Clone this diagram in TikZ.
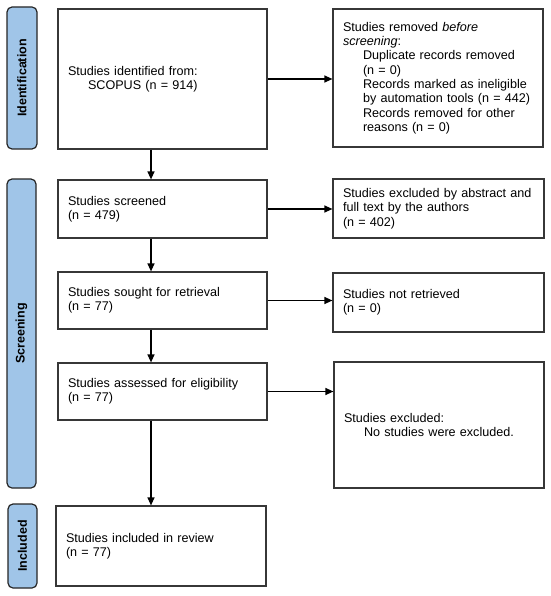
\documentclass[tikz,border=0pt]{standalone}
\usepackage{fontspec}
\setmainfont{Liberation Sans}
\usetikzlibrary{arrows.meta}
\definecolor{barblue}{RGB}{160,197,232}
\definecolor{edgegray}{RGB}{55,55,55}
\begin{document}
\begin{tikzpicture}[x=1pt,y=-1pt,
  box/.style={draw=edgegray, line width=1.2pt, fill=white, inner xsep=10pt, inner ysep=2pt,
    align=left, anchor=center, font=\fontsize{12.6}{14.3}\selectfont},
  bar/.style={draw=black!85, line width=1.2pt, fill=barblue, rounded corners=5pt, rotate=90,
    inner sep=0pt, font=\bfseries\fontsize{12.5}{14}\selectfont},
  arr/.style={line width=1.2pt, -{Triangle[length=8pt,width=7pt]}}]
\useasboundingbox (0,0) rectangle (550,596);
\fill[white] (0,0) rectangle (550,596);

% phase bars
\node[bar, minimum width=142pt, minimum height=30pt] (idbar) at (22,78) {Identification};
\node[bar, minimum width=309pt, minimum height=29pt] (scbar) at (21.5,333.5) {Screening};
\node[bar, minimum width=84pt, minimum height=29pt] (inbar) at (22.5,546) {Included};

% left column
\node[box, text width=189pt, minimum height=140pt] (B1) at (162.5,79)
  {Studies identified from:\\\hspace*{20pt}SCOPUS (n = 914)};
\node[box, text width=189pt, minimum height=58pt] (B2) at (162.5,209)
  {Studies screened\\(n = 479)};
\node[box, text width=189pt, minimum height=57pt] (B3) at (162.5,300.5)
  {Studies sought for retrieval\\(n = 77)};
\node[box, text width=189pt, minimum height=57pt] (B4) at (162.5,391.5)
  {Studies assessed for eligibility\\(n = 77)};
\node[box, text width=190pt, minimum height=80pt] (B5) at (161,546)
  {Studies included in review\\(n = 77)};

% right column
\node[box, text width=190pt, minimum height=138pt] (R1) at (438,78)
  {Studies removed \textit{before}\\
   \textit{screening}:\\
   \hspace*{20pt}Duplicate records removed\\
   \hspace*{20pt}(n = 0)\\
   \hspace*{20pt}Records marked as ineligible\\
   \hspace*{20pt}by automation tools (n = 442)\\
   \hspace*{20pt}Records removed for other\\
   \hspace*{20pt}reasons (n = 0)};
\node[box, text width=191pt, minimum height=59pt] (R2) at (438.5,208.5)
  {Studies excluded by abstract and\\full text by the authors\\(n = 402)};
\node[box, text width=191pt, minimum height=59pt] (R3) at (438.5,302.5)
  {Studies not retrieved\\(n = 0)};
\node[box, text width=190pt, minimum height=126pt] (R4) at (439,425)
  {Studies excluded:\\\hspace*{20pt}No studies were excluded.};

% connectors
\coordinate (ax) at (151,0);
\draw[arr] (B1.south -| ax) -- (B2.north -| ax);
\draw[arr] (B2.south -| ax) -- (B3.north -| ax);
\draw[arr] (B3.south -| ax) -- (B4.north -| ax);
\draw[arr] (B4.south -| ax) -- (B5.north -| ax);

\draw[arr] (B1.east) -- (B1.east -| R1.west);
\draw[arr] (B2.east) -- (B2.east -| R2.west);
\draw[arr] (B3.east) -- (B3.east -| R3.west);
\draw[arr] (B4.east) -- (B4.east -| R4.west);
\end{tikzpicture}
\end{document}
